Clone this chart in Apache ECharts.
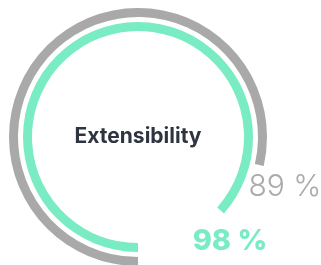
<!DOCTYPE html>
<html>
<head>
<meta charset="utf-8">
<script src="https://cdn.jsdelivr.net/npm/echarts@6/dist/echarts.min.js"></script>
<style>
  html, body { margin: 0; padding: 0; background: #fff; }
  #chart { width: 321px; height: 265px; }
</style>
</head>
<body>
<div id="chart"></div>
<script>
// chart values
const metricNames = ['Extensibility'];
const outerValues = [89];
const innerValues = [98];

const chart = echarts.init(document.getElementById('chart'));

// shared gauge settings (span ~318 deg clockwise starting at the bottom)
const baseGauge = {
  type: 'gauge',
  center: [138, 137],
  startAngle: 270,
  endAngle: -48,
  min: 0,
  max: 100,
  pointer: { show: false },
  anchor: { show: false },
  axisTick: { show: false },
  splitLine: { show: false },
  axisLabel: { show: false },
  silent: true,
  animation: false
};

const options = {
  series: [
    Object.assign({}, baseGauge, {
      radius: 129,
      progress: { show: true, width: 9, itemStyle: { color: '#a9a9a9' } },
      axisLine: { lineStyle: { width: 9, color: [[1, 'rgba(0,0,0,0)']] } },
      title: { show: false },
      detail: {
        offsetCenter: [147, 50],
        formatter: '{value} %',
        color: '#aaaaaa',
        fontFamily: 'Inter',
        fontWeight: 300,
        fontSize: 30
      },
      data: [{ value: outerValues[0] }]
    }),
    Object.assign({}, baseGauge, {
      radius: 115,
      progress: { show: true, width: 9, itemStyle: { color: '#79ecc4' } },
      axisLine: { lineStyle: { width: 9, color: [[1, 'rgba(0,0,0,0)']] } },
      title: {
        offsetCenter: [0, 0],
        color: '#2e3440',
        fontFamily: 'Inter',
        fontWeight: 'bold',
        fontSize: 21
      },
      detail: {
        offsetCenter: [92, 104],
        formatter: '{value} %',
        color: '#79ecc4',
        fontFamily: 'Inter',
        fontWeight: 800,
        fontSize: 29
      },
      data: [{ value: innerValues[0], name: metricNames[0] }]
    })
  ]
};

chart.setOption(options);
</script>
</body>
</html>
